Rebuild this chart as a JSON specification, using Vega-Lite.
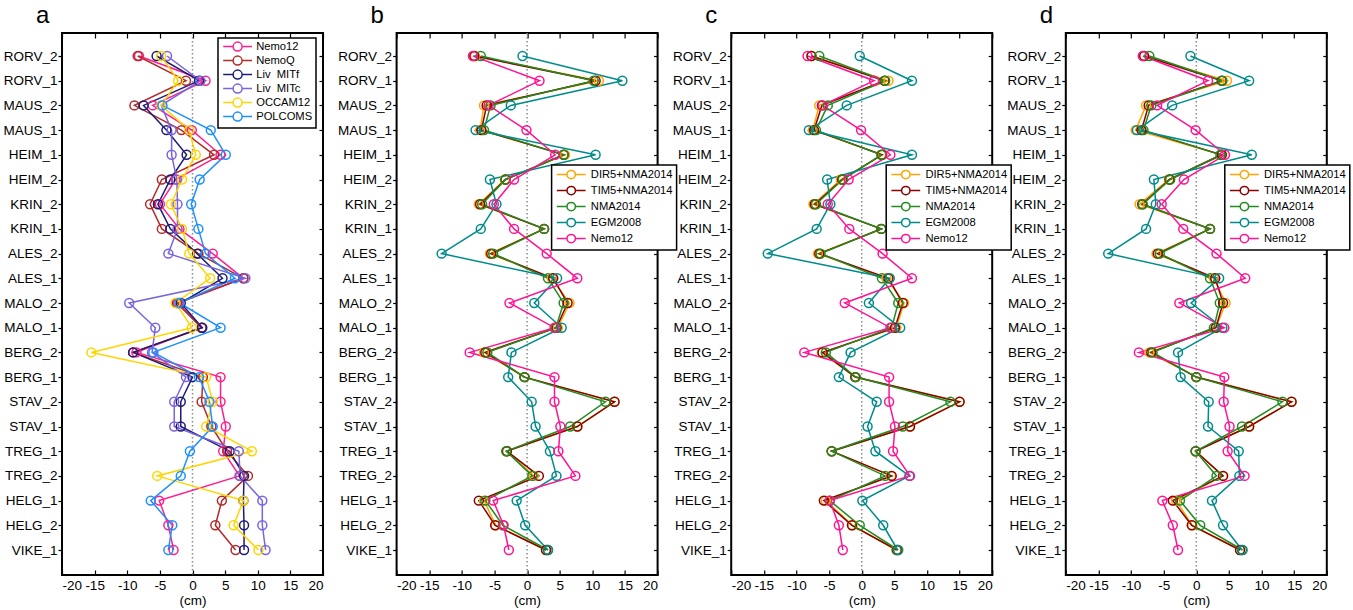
{
"$schema": "https://vega.github.io/schema/vega-lite/v6.json",
"background": "white",
"padding": {"left": 1, "top": 3, "right": 0, "bottom": 0},
"datasets": {
"pa": [
{"s":"RORV_2","Nemo12":-8.2,"NemoQ":-8.4,"Liv  MITf":-5.5,"Liv  MITc":-3.9,"OCCAM12":-4.8,"POLCOMS":null},
{"s":"RORV_1","Nemo12":2.0,"NemoQ":-1.0,"Liv  MITf":1.0,"Liv  MITc":1.2,"OCCAM12":-2.2,"POLCOMS":null},
{"s":"MAUS_2","Nemo12":-6.1,"NemoQ":-8.9,"Liv  MITf":-7.5,"Liv  MITc":-4.8,"OCCAM12":-4.8,"POLCOMS":-4.6},
{"s":"MAUS_1","Nemo12":-0.1,"NemoQ":-1.7,"Liv  MITf":-4.0,"Liv  MITc":-3.2,"OCCAM12":-0.5,"POLCOMS":2.8},
{"s":"HEIM_1","Nemo12":4.3,"NemoQ":3.3,"Liv  MITf":-0.9,"Liv  MITc":-3.2,"OCCAM12":0.5,"POLCOMS":5.1},
{"s":"HEIM_2","Nemo12":-2.6,"NemoQ":-4.7,"Liv  MITf":-3.4,"Liv  MITc":-2.4,"OCCAM12":-1.6,"POLCOMS":1.1},
{"s":"KRIN_2","Nemo12":-5.0,"NemoQ":-6.5,"Liv  MITf":-5.3,"Liv  MITc":-2.3,"OCCAM12":-3.3,"POLCOMS":-0.2},
{"s":"KRIN_1","Nemo12":-2.0,"NemoQ":-4.7,"Liv  MITf":-3.4,"Liv  MITc":-2.3,"OCCAM12":-1.6,"POLCOMS":0.9},
{"s":"ALES_2","Nemo12":3.1,"NemoQ":0.9,"Liv  MITf":0.7,"Liv  MITc":-3.7,"OCCAM12":-0.5,"POLCOMS":2.0},
{"s":"ALES_1","Nemo12":7.8,"NemoQ":7.8,"Liv  MITf":4.6,"Liv  MITc":8.1,"OCCAM12":2.7,"POLCOMS":6.5},
{"s":"MALO_2","Nemo12":-2.2,"NemoQ":-2.4,"Liv  MITf":-1.8,"Liv  MITc":-9.7,"OCCAM12":-2.6,"POLCOMS":-2.0},
{"s":"MALO_1","Nemo12":1.4,"NemoQ":1.4,"Liv  MITf":1.5,"Liv  MITc":-5.7,"OCCAM12":-0.1,"POLCOMS":4.3},
{"s":"BERG_2","Nemo12":-8.6,"NemoQ":-9.1,"Liv  MITf":-9.1,"Liv  MITc":-6.2,"OCCAM12":-15.5,"POLCOMS":-6.0},
{"s":"BERG_1","Nemo12":4.3,"NemoQ":1.6,"Liv  MITf":0.0,"Liv  MITc":-1.0,"OCCAM12":2.1,"POLCOMS":1.0},
{"s":"STAV_2","Nemo12":4.3,"NemoQ":1.4,"Liv  MITf":-1.8,"Liv  MITc":-2.8,"OCCAM12":3.1,"POLCOMS":2.6},
{"s":"STAV_1","Nemo12":5.1,"NemoQ":2.9,"Liv  MITf":-1.8,"Liv  MITc":-2.8,"OCCAM12":2.1,"POLCOMS":3.1},
{"s":"TREG_1","Nemo12":4.7,"NemoQ":5.3,"Liv  MITf":5.7,"Liv  MITc":7.1,"OCCAM12":9.1,"POLCOMS":-0.4},
{"s":"TREG_2","Nemo12":7.2,"NemoQ":8.5,"Liv  MITf":7.9,"Liv  MITc":7.3,"OCCAM12":-5.4,"POLCOMS":-1.8},
{"s":"HELG_1","Nemo12":-5.1,"NemoQ":4.5,"Liv  MITf":7.8,"Liv  MITc":10.7,"OCCAM12":7.8,"POLCOMS":-6.4},
{"s":"HELG_2","Nemo12":-3.7,"NemoQ":3.5,"Liv  MITf":7.9,"Liv  MITc":10.7,"OCCAM12":6.3,"POLCOMS":-3.1},
{"s":"VIKE_1","Nemo12":-2.9,"NemoQ":6.6,"Liv  MITf":7.9,"Liv  MITc":11.2,"OCCAM12":10.1,"POLCOMS":-3.7}
],
"pb": [
{"s":"RORV_2","DIR5+NMA2014":-8.0,"TIM5+NMA2014":-8.1,"NMA2014":-7.1,"EGM2008":-0.7,"Nemo12":-8.3},
{"s":"RORV_1","DIR5+NMA2014":11.0,"TIM5+NMA2014":10.5,"NMA2014":10.2,"EGM2008":14.6,"Nemo12":1.9},
{"s":"MAUS_2","DIR5+NMA2014":-6.6,"TIM5+NMA2014":-6.2,"NMA2014":-5.6,"EGM2008":-2.5,"Nemo12":-5.9},
{"s":"MAUS_1","DIR5+NMA2014":-7.2,"TIM5+NMA2014":-7.0,"NMA2014":-6.6,"EGM2008":-7.9,"Nemo12":-0.1},
{"s":"HEIM_1","DIR5+NMA2014":5.8,"TIM5+NMA2014":5.6,"NMA2014":5.6,"EGM2008":10.5,"Nemo12":4.3},
{"s":"HEIM_2","DIR5+NMA2014":-3.4,"TIM5+NMA2014":-3.3,"NMA2014":-3.3,"EGM2008":-5.7,"Nemo12":-2.0},
{"s":"KRIN_2","DIR5+NMA2014":-7.4,"TIM5+NMA2014":-7.2,"NMA2014":-6.9,"EGM2008":-4.7,"Nemo12":-5.1},
{"s":"KRIN_1","DIR5+NMA2014":2.6,"TIM5+NMA2014":2.6,"NMA2014":2.6,"EGM2008":-7.1,"Nemo12":-2.0},
{"s":"ALES_2","DIR5+NMA2014":-5.7,"TIM5+NMA2014":-5.5,"NMA2014":-5.2,"EGM2008":-13.1,"Nemo12":3.0},
{"s":"ALES_1","DIR5+NMA2014":3.8,"TIM5+NMA2014":4.0,"NMA2014":3.2,"EGM2008":4.6,"Nemo12":7.7},
{"s":"MALO_2","DIR5+NMA2014":6.5,"TIM5+NMA2014":6.2,"NMA2014":5.6,"EGM2008":1.1,"Nemo12":-2.7},
{"s":"MALO_1","DIR5+NMA2014":4.7,"TIM5+NMA2014":4.5,"NMA2014":4.4,"EGM2008":5.3,"Nemo12":4.2},
{"s":"BERG_2","DIR5+NMA2014":-6.6,"TIM5+NMA2014":-6.4,"NMA2014":-6.1,"EGM2008":-2.4,"Nemo12":-8.8},
{"s":"BERG_1","DIR5+NMA2014":-0.4,"TIM5+NMA2014":-0.4,"NMA2014":-0.4,"EGM2008":-2.9,"Nemo12":4.2},
{"s":"STAV_2","DIR5+NMA2014":13.4,"TIM5+NMA2014":13.4,"NMA2014":12.0,"EGM2008":0.7,"Nemo12":4.2},
{"s":"STAV_1","DIR5+NMA2014":7.7,"TIM5+NMA2014":7.7,"NMA2014":6.6,"EGM2008":1.3,"Nemo12":5.1},
{"s":"TREG_1","DIR5+NMA2014":-3.1,"TIM5+NMA2014":-3.1,"NMA2014":-3.2,"EGM2008":3.5,"Nemo12":4.8},
{"s":"TREG_2","DIR5+NMA2014":1.0,"TIM5+NMA2014":1.8,"NMA2014":0.8,"EGM2008":4.5,"Nemo12":7.4},
{"s":"HELG_1","DIR5+NMA2014":-6.6,"TIM5+NMA2014":-7.4,"NMA2014":-6.4,"EGM2008":-1.6,"Nemo12":-5.2},
{"s":"HELG_2","DIR5+NMA2014":-4.8,"TIM5+NMA2014":-4.9,"NMA2014":-3.7,"EGM2008":-0.3,"Nemo12":-3.6},
{"s":"VIKE_1","DIR5+NMA2014":2.9,"TIM5+NMA2014":2.9,"NMA2014":3.2,"EGM2008":3.2,"Nemo12":-2.8}
],
"pc": [
{"s":"RORV_2","DIR5+NMA2014":-7.7,"TIM5+NMA2014":-7.7,"NMA2014":-6.5,"EGM2008":-0.3,"Nemo12":-8.3},
{"s":"RORV_1","DIR5+NMA2014":4.1,"TIM5+NMA2014":3.5,"NMA2014":3.6,"EGM2008":7.7,"Nemo12":1.9},
{"s":"MAUS_2","DIR5+NMA2014":-6.5,"TIM5+NMA2014":-6.1,"NMA2014":-5.2,"EGM2008":-2.3,"Nemo12":-6.0},
{"s":"MAUS_1","DIR5+NMA2014":-7.5,"TIM5+NMA2014":-7.3,"NMA2014":-7.0,"EGM2008":-8.1,"Nemo12":-0.1},
{"s":"HEIM_1","DIR5+NMA2014":3.2,"TIM5+NMA2014":3.1,"NMA2014":3.0,"EGM2008":7.7,"Nemo12":4.4},
{"s":"HEIM_2","DIR5+NMA2014":-3.2,"TIM5+NMA2014":-3.0,"NMA2014":-2.9,"EGM2008":-5.3,"Nemo12":-2.0},
{"s":"KRIN_2","DIR5+NMA2014":-7.4,"TIM5+NMA2014":-7.2,"NMA2014":-7.0,"EGM2008":-4.8,"Nemo12":-5.2},
{"s":"KRIN_1","DIR5+NMA2014":3.0,"TIM5+NMA2014":3.0,"NMA2014":3.0,"EGM2008":-6.9,"Nemo12":-1.9},
{"s":"ALES_2","DIR5+NMA2014":-6.7,"TIM5+NMA2014":-6.5,"NMA2014":-6.3,"EGM2008":-14.4,"Nemo12":3.2},
{"s":"ALES_1","DIR5+NMA2014":3.8,"TIM5+NMA2014":4.1,"NMA2014":3.1,"EGM2008":4.3,"Nemo12":7.7},
{"s":"MALO_2","DIR5+NMA2014":6.5,"TIM5+NMA2014":6.3,"NMA2014":5.6,"EGM2008":1.1,"Nemo12":-2.6},
{"s":"MALO_1","DIR5+NMA2014":5.3,"TIM5+NMA2014":5.1,"NMA2014":4.6,"EGM2008":5.9,"Nemo12":4.4},
{"s":"BERG_2","DIR5+NMA2014":-6.1,"TIM5+NMA2014":-6.0,"NMA2014":-5.5,"EGM2008":-1.7,"Nemo12":-8.8},
{"s":"BERG_1","DIR5+NMA2014":-1.0,"TIM5+NMA2014":-1.0,"NMA2014":-0.9,"EGM2008":-3.5,"Nemo12":4.2},
{"s":"STAV_2","DIR5+NMA2014":15.0,"TIM5+NMA2014":15.0,"NMA2014":13.6,"EGM2008":2.3,"Nemo12":4.2},
{"s":"STAV_1","DIR5+NMA2014":7.4,"TIM5+NMA2014":7.4,"NMA2014":6.3,"EGM2008":0.9,"Nemo12":5.1},
{"s":"TREG_1","DIR5+NMA2014":-4.6,"TIM5+NMA2014":-4.6,"NMA2014":-4.6,"EGM2008":2.1,"Nemo12":4.8},
{"s":"TREG_2","DIR5+NMA2014":4.5,"TIM5+NMA2014":4.6,"NMA2014":3.6,"EGM2008":7.3,"Nemo12":7.4},
{"s":"HELG_1","DIR5+NMA2014":-5.5,"TIM5+NMA2014":-5.8,"NMA2014":-4.9,"EGM2008":0.1,"Nemo12":-4.9},
{"s":"HELG_2","DIR5+NMA2014":-1.4,"TIM5+NMA2014":-1.5,"NMA2014":-0.3,"EGM2008":3.3,"Nemo12":-3.5},
{"s":"VIKE_1","DIR5+NMA2014":5.3,"TIM5+NMA2014":5.4,"NMA2014":5.6,"EGM2008":5.5,"Nemo12":-2.9}
],
"pd": [
{"s":"RORV_2","DIR5+NMA2014":-8.0,"TIM5+NMA2014":-8.0,"NMA2014":-7.2,"EGM2008":-0.9,"Nemo12":-8.2},
{"s":"RORV_1","DIR5+NMA2014":4.7,"TIM5+NMA2014":3.9,"NMA2014":4.0,"EGM2008":8.1,"Nemo12":1.8},
{"s":"MAUS_2","DIR5+NMA2014":-7.7,"TIM5+NMA2014":-7.3,"NMA2014":-6.9,"EGM2008":-3.7,"Nemo12":-6.0},
{"s":"MAUS_1","DIR5+NMA2014":-9.3,"TIM5+NMA2014":-8.4,"NMA2014":-8.1,"EGM2008":-9.1,"Nemo12":-0.1},
{"s":"HEIM_1","DIR5+NMA2014":3.9,"TIM5+NMA2014":3.9,"NMA2014":3.7,"EGM2008":8.5,"Nemo12":4.4},
{"s":"HEIM_2","DIR5+NMA2014":-4.2,"TIM5+NMA2014":-4.1,"NMA2014":-4.0,"EGM2008":-6.5,"Nemo12":-1.9},
{"s":"KRIN_2","DIR5+NMA2014":-8.7,"TIM5+NMA2014":-8.3,"NMA2014":-8.2,"EGM2008":-6.2,"Nemo12":-5.3},
{"s":"KRIN_1","DIR5+NMA2014":2.1,"TIM5+NMA2014":2.1,"NMA2014":2.1,"EGM2008":-7.7,"Nemo12":-2.0},
{"s":"ALES_2","DIR5+NMA2014":-6.1,"TIM5+NMA2014":-5.9,"NMA2014":-5.6,"EGM2008":-13.5,"Nemo12":3.1},
{"s":"ALES_1","DIR5+NMA2014":2.7,"TIM5+NMA2014":2.9,"NMA2014":2.1,"EGM2008":3.5,"Nemo12":7.5},
{"s":"MALO_2","DIR5+NMA2014":4.5,"TIM5+NMA2014":4.1,"NMA2014":3.6,"EGM2008":-0.8,"Nemo12":-2.6},
{"s":"MALO_1","DIR5+NMA2014":3.0,"TIM5+NMA2014":3.0,"NMA2014":2.7,"EGM2008":4.0,"Nemo12":4.3},
{"s":"BERG_2","DIR5+NMA2014":-7.2,"TIM5+NMA2014":-6.9,"NMA2014":-6.7,"EGM2008":-2.8,"Nemo12":-8.8},
{"s":"BERG_1","DIR5+NMA2014":0.0,"TIM5+NMA2014":0.0,"NMA2014":0.0,"EGM2008":-2.4,"Nemo12":4.3},
{"s":"STAV_2","DIR5+NMA2014":14.6,"TIM5+NMA2014":14.6,"NMA2014":13.2,"EGM2008":1.9,"Nemo12":4.2},
{"s":"STAV_1","DIR5+NMA2014":8.1,"TIM5+NMA2014":8.1,"NMA2014":7.0,"EGM2008":1.8,"Nemo12":5.1},
{"s":"TREG_1","DIR5+NMA2014":-0.1,"TIM5+NMA2014":-0.1,"NMA2014":-0.1,"EGM2008":6.5,"Nemo12":4.8},
{"s":"TREG_2","DIR5+NMA2014":4.1,"TIM5+NMA2014":4.1,"NMA2014":3.1,"EGM2008":6.6,"Nemo12":7.4},
{"s":"HELG_1","DIR5+NMA2014":-3.1,"TIM5+NMA2014":-3.6,"NMA2014":-2.5,"EGM2008":2.4,"Nemo12":-5.2},
{"s":"HELG_2","DIR5+NMA2014":-0.6,"TIM5+NMA2014":-0.7,"NMA2014":0.6,"EGM2008":4.1,"Nemo12":-3.6},
{"s":"VIKE_1","DIR5+NMA2014":6.7,"TIM5+NMA2014":6.7,"NMA2014":7.1,"EGM2008":7.0,"Nemo12":-2.8}
]
},
"hconcat": [
{
"width": 261, "height": 542,
"title": {"text": "a"},
"data": {"name": "pa"},
"transform": [{"fold": ["Nemo12","NemoQ","Liv  MITf","Liv  MITc","OCCAM12","POLCOMS"], "as": ["series","value"]}, {"filter": "isValid(datum.value)"}],
"layer": [
{"data": {"values": [{"z": 0}]}, "transform": [], "mark": {"type": "rule", "color": "#8a8a8a", "strokeDash": [1.5, 2.5], "strokeWidth": 1.5}, "encoding": {"x": {"field": "z", "type": "quantitative", "axis": null, "scale": {"domain": [-20, 20]}}}},
{"mark": {"type": "line", "strokeWidth": 1.5}, "encoding": {
"x": {"field": "value", "type": "quantitative", "scale": {"domain": [-20, 20], "nice": false}, "axis": {"orient": "bottom", "values": [-20,-15,-10,-5,0,5,10,15,20], "labelExpr": "'' + datum.value", "tickSize": -5, "labelPadding": 8, "title": "(cm)", "titlePadding": 2}},
"y": {"field": "s", "type": "ordinal", "sort": null, "scale": {"type": "point", "padding": 0, "range": [23, 517]}, "axis": {"orient": "left", "tickSize": 4, "labelPadding": 1, "title": null}},
"order": {"value": null},
"color": {"field": "series", "type": "nominal", "scale": {"domain": ["Nemo12","NemoQ","Liv  MITf","Liv  MITc","OCCAM12","POLCOMS"], "range": ["#ff1f8e","#b22a2a","#1c1c74","#7b63e0","#ffd500","#1e8fff"]},
 "legend": {"orient": "none", "legendX": 156, "legendY": 5, "title": null, "labelExpr": "replace(datum.label, '  ', '\u00a0\u00a0')", "symbolType": "M-4.8,0H-1.5M1.5,0H4.8M1.5,0A1.5,1.5,0,0,1,0,1.5A1.5,1.5,0,0,1,-1.5,0A1.5,1.5,0,0,1,0,-1.5A1.5,1.5,0,0,1,1.5,0", "symbolSize": 36, "symbolOffset": 11, "symbolStrokeWidth": 1.5, "symbolFillColor": "white", "strokeColor": "black", "fillColor": "white", "padding": 3, "labelFontSize": 11.2, "rowPadding": -2.2, "labelOffset": 13, "encode": {"legend": {"update": {"strokeWidth": {"value": 1.5}}}}}}
}},
{"mark": {"type": "point", "filled": false, "size": 80, "strokeWidth": 1.5, "opacity": 1}, "encoding": {
"x": {"field": "value", "type": "quantitative", "scale": {"domain": [-20, 20], "nice": false}, "axis": {"orient": "top", "values": [-20,-15,-10,-5,0,5,10,15,20], "labels": false, "tickSize": -5, "title": null}},
"y": {"field": "s", "type": "ordinal", "sort": null, "scale": {"type": "point", "padding": 0, "range": [23, 517]}, "axis": {"orient": "right", "labels": false, "tickSize": -4, "title": null}},
"color": {"field": "series", "type": "nominal"}
}}
],
"resolve": {"axis": {"x": "independent", "y": "independent"}}
},
{
"width": 261, "height": 542,
"title": {"text": "b"},
"data": {"name": "pb"},
"transform": [{"fold": ["DIR5+NMA2014","TIM5+NMA2014","NMA2014","EGM2008","Nemo12"], "as": ["series","value"]}, {"filter": "isValid(datum.value)"}],
"layer": [
{"data": {"values": [{"z": 0}]}, "transform": [], "mark": {"type": "rule", "color": "#8a8a8a", "strokeDash": [1.5, 2.5], "strokeWidth": 1.5}, "encoding": {"x": {"field": "z", "type": "quantitative", "axis": null, "scale": {"domain": [-20, 20]}}}},
{"mark": {"type": "line", "strokeWidth": 1.5}, "encoding": {
"x": {"field": "value", "type": "quantitative", "scale": {"domain": [-20, 20], "nice": false}, "axis": {"orient": "bottom", "values": [-20,-15,-10,-5,0,5,10,15,20], "labelExpr": "'' + datum.value", "tickSize": -5, "labelPadding": 8, "title": "(cm)", "titlePadding": 2}},
"y": {"field": "s", "type": "ordinal", "sort": null, "scale": {"type": "point", "padding": 0, "range": [23, 517]}, "axis": {"orient": "left", "tickSize": 4, "labelPadding": 1, "title": null}},
"order": {"value": null},
"color": {"field": "series", "type": "nominal", "scale": {"domain": ["DIR5+NMA2014","TIM5+NMA2014","NMA2014","EGM2008","Nemo12"], "range": ["#ffa500","#8b0000","#228b22","#008b8b","#ff1493"]},
 "legend": {"orient": "none", "legendX": 155, "legendY": 132, "title": null, "symbolType": "M-4.8,0H-1.4M1.4,0H4.8M1.4,0A1.4,1.4,0,0,1,0,1.4A1.4,1.4,0,0,1,-1.4,0A1.4,1.4,0,0,1,0,-1.4A1.4,1.4,0,0,1,1.4,0", "symbolSize": 36, "symbolOffset": 10, "symbolStrokeWidth": 1.5, "symbolFillColor": "white", "strokeColor": "black", "fillColor": "white", "padding": 4, "labelFontSize": 11.2, "rowPadding": 1, "labelOffset": 14, "labelLimit": 300, "encode": {"legend": {"update": {"strokeWidth": {"value": 1.5}}}}}}
}},
{"mark": {"type": "point", "filled": false, "size": 80, "strokeWidth": 1.5, "opacity": 1}, "encoding": {
"x": {"field": "value", "type": "quantitative", "scale": {"domain": [-20, 20], "nice": false}, "axis": {"orient": "top", "values": [-20,-15,-10,-5,0,5,10,15,20], "labels": false, "tickSize": -5, "title": null}},
"y": {"field": "s", "type": "ordinal", "sort": null, "scale": {"type": "point", "padding": 0, "range": [23, 517]}, "axis": {"orient": "right", "labels": false, "tickSize": -4, "title": null}},
"color": {"field": "series", "type": "nominal"}
}}
],
"resolve": {"axis": {"x": "independent", "y": "independent"}}
},
{
"width": 261, "height": 542,
"title": {"text": "c"},
"data": {"name": "pc"},
"transform": [{"fold": ["DIR5+NMA2014","TIM5+NMA2014","NMA2014","EGM2008","Nemo12"], "as": ["series","value"]}, {"filter": "isValid(datum.value)"}],
"layer": [
{"data": {"values": [{"z": 0}]}, "transform": [], "mark": {"type": "rule", "color": "#8a8a8a", "strokeDash": [1.5, 2.5], "strokeWidth": 1.5}, "encoding": {"x": {"field": "z", "type": "quantitative", "axis": null, "scale": {"domain": [-20, 20]}}}},
{"mark": {"type": "line", "strokeWidth": 1.5}, "encoding": {
"x": {"field": "value", "type": "quantitative", "scale": {"domain": [-20, 20], "nice": false}, "axis": {"orient": "bottom", "values": [-20,-15,-10,-5,0,5,10,15,20], "labelExpr": "'' + datum.value", "tickSize": -5, "labelPadding": 8, "title": "(cm)", "titlePadding": 2}},
"y": {"field": "s", "type": "ordinal", "sort": null, "scale": {"type": "point", "padding": 0, "range": [23, 517]}, "axis": {"orient": "left", "tickSize": 4, "labelPadding": 1, "title": null}},
"order": {"value": null},
"color": {"field": "series", "type": "nominal", "scale": {"domain": ["DIR5+NMA2014","TIM5+NMA2014","NMA2014","EGM2008","Nemo12"], "range": ["#ffa500","#8b0000","#228b22","#008b8b","#ff1493"]},
 "legend": {"orient": "none", "legendX": 155, "legendY": 132, "title": null, "symbolType": "M-4.8,0H-1.4M1.4,0H4.8M1.4,0A1.4,1.4,0,0,1,0,1.4A1.4,1.4,0,0,1,-1.4,0A1.4,1.4,0,0,1,0,-1.4A1.4,1.4,0,0,1,1.4,0", "symbolSize": 36, "symbolOffset": 10, "symbolStrokeWidth": 1.5, "symbolFillColor": "white", "strokeColor": "black", "fillColor": "white", "padding": 4, "labelFontSize": 11.2, "rowPadding": 1, "labelOffset": 14, "labelLimit": 300, "encode": {"legend": {"update": {"strokeWidth": {"value": 1.5}}}}}}
}},
{"mark": {"type": "point", "filled": false, "size": 80, "strokeWidth": 1.5, "opacity": 1}, "encoding": {
"x": {"field": "value", "type": "quantitative", "scale": {"domain": [-20, 20], "nice": false}, "axis": {"orient": "top", "values": [-20,-15,-10,-5,0,5,10,15,20], "labels": false, "tickSize": -5, "title": null}},
"y": {"field": "s", "type": "ordinal", "sort": null, "scale": {"type": "point", "padding": 0, "range": [23, 517]}, "axis": {"orient": "right", "labels": false, "tickSize": -4, "title": null}},
"color": {"field": "series", "type": "nominal"}
}}
],
"resolve": {"axis": {"x": "independent", "y": "independent"}}
},
{
"width": 261, "height": 542,
"title": {"text": "d"},
"data": {"name": "pd"},
"transform": [{"fold": ["DIR5+NMA2014","TIM5+NMA2014","NMA2014","EGM2008","Nemo12"], "as": ["series","value"]}, {"filter": "isValid(datum.value)"}],
"layer": [
{"data": {"values": [{"z": 0}]}, "transform": [], "mark": {"type": "rule", "color": "#8a8a8a", "strokeDash": [1.5, 2.5], "strokeWidth": 1.5}, "encoding": {"x": {"field": "z", "type": "quantitative", "axis": null, "scale": {"domain": [-20, 20]}}}},
{"mark": {"type": "line", "strokeWidth": 1.5}, "encoding": {
"x": {"field": "value", "type": "quantitative", "scale": {"domain": [-20, 20], "nice": false}, "axis": {"orient": "bottom", "values": [-20,-15,-10,-5,0,5,10,15,20], "labelExpr": "'' + datum.value", "tickSize": -5, "labelPadding": 8, "title": "(cm)", "titlePadding": 2}},
"y": {"field": "s", "type": "ordinal", "sort": null, "scale": {"type": "point", "padding": 0, "range": [23, 517]}, "axis": {"orient": "left", "tickSize": 4, "labelPadding": 1, "title": null}},
"order": {"value": null},
"color": {"field": "series", "type": "nominal", "scale": {"domain": ["DIR5+NMA2014","TIM5+NMA2014","NMA2014","EGM2008","Nemo12"], "range": ["#ffa500","#8b0000","#228b22","#008b8b","#ff1493"]},
 "legend": {"orient": "none", "legendX": 159, "legendY": 132, "title": null, "symbolType": "M-4.8,0H-1.4M1.4,0H4.8M1.4,0A1.4,1.4,0,0,1,0,1.4A1.4,1.4,0,0,1,-1.4,0A1.4,1.4,0,0,1,0,-1.4A1.4,1.4,0,0,1,1.4,0", "symbolSize": 36, "symbolOffset": 10, "symbolStrokeWidth": 1.5, "symbolFillColor": "white", "strokeColor": "black", "fillColor": "white", "padding": 4, "labelFontSize": 11.2, "rowPadding": 1, "labelOffset": 14, "labelLimit": 300, "encode": {"legend": {"update": {"strokeWidth": {"value": 1.5}}}}}}
}},
{"mark": {"type": "point", "filled": false, "size": 80, "strokeWidth": 1.5, "opacity": 1}, "encoding": {
"x": {"field": "value", "type": "quantitative", "scale": {"domain": [-20, 20], "nice": false}, "axis": {"orient": "top", "values": [-20,-15,-10,-5,0,5,10,15,20], "labels": false, "tickSize": -5, "title": null}},
"y": {"field": "s", "type": "ordinal", "sort": null, "scale": {"type": "point", "padding": 0, "range": [23, 517]}, "axis": {"orient": "right", "labels": false, "tickSize": -4, "title": null}},
"color": {"field": "series", "type": "nominal"}
}}
],
"resolve": {"axis": {"x": "independent", "y": "independent"}}
}
],
"spacing": 73.6,
"bounds": "flush",
"resolve": {"scale": {"color": "independent", "x": "independent", "y": "independent"}},
"config": {
"font": "Liberation Sans",
"view": {"stroke": "black", "strokeWidth": 2},
"axis": {"domain": false, "grid": false, "labelFont": "Liberation Sans", "labelFontSize": 13.5, "labelColor": "black", "tickColor": "black", "tickWidth": 1.2, "titleFont": "Liberation Sans", "titleFontSize": 13.5, "titleFontWeight": "normal", "titleColor": "black"},
"legend": {"labelFont": "Liberation Sans", "labelColor": "black"},
"title": {"font": "Liberation Sans", "fontSize": 24, "fontWeight": "normal", "color": "black", "anchor": "start", "frame": "group", "dx": -26, "offset": 4}
}
}
